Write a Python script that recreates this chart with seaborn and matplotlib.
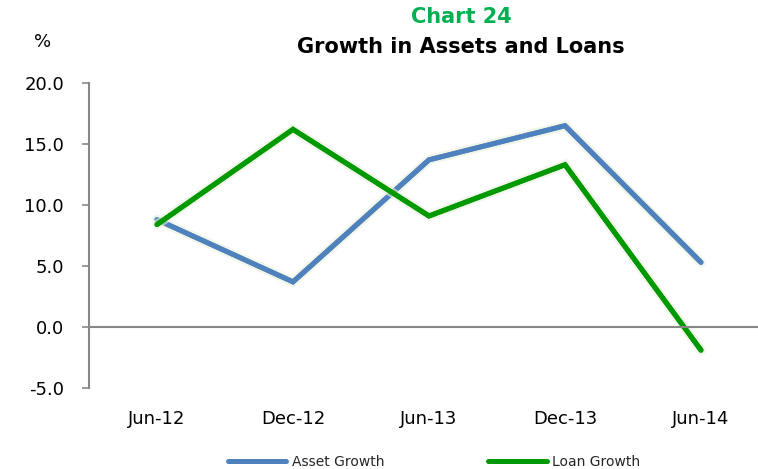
import numpy as np
import pandas as pd
import matplotlib
matplotlib.use('Agg')
import matplotlib.pyplot as plt
import matplotlib.patheffects as pe
import seaborn as sns

periods = ['Jun-12', 'Dec-12', 'Jun-13', 'Dec-13', 'Jun-14']
asset_growth = [8.8, 3.7, 13.7, 16.5, 5.3]
loan_growth = [8.4, 16.2, 9.1, 13.3, -1.9]
series_names = ['Asset Growth', 'Loan Growth']
series_colors = ['#4F81BD', '#009900']

df = pd.DataFrame({'period': periods,
                   'Asset Growth': asset_growth,
                   'Loan Growth': loan_growth})
long_df = df.melt(id_vars='period', var_name='series', value_name='growth')

sns.set_style('white')
plt.rcParams['font.family'] = ['DejaVu Sans']

fig = plt.figure(figsize=(7.58, 4.69), dpi=100)
ax = fig.add_axes([89 / 758, 1 - 388 / 469, 680 / 758, 305 / 469])

sns.lineplot(data=long_df, x='period', y='growth', hue='series',
             hue_order=series_names, palette=series_colors, sort=False,
             linewidth=3.6, ax=ax, legend=True)

glow = [pe.withStroke(linewidth=7, foreground='#e8f0dc', alpha=0.6), pe.Normal()]
for line in ax.lines:
    line.set_path_effects(glow)
    line.set_solid_capstyle('round')
    line.set_solid_joinstyle('miter')

ax.set_xlim(-0.5, len(periods) - 0.5)
ax.set_ylim(-5, 20)
ax.set_yticks(np.arange(-5, 20.1, 5))
ax.set_yticklabels([f'{v:.1f}' for v in np.arange(-5, 20.1, 5)])
ax.set_xlabel('')
ax.set_ylabel('')

gray = '#878787'
for s in ['top', 'right']:
    ax.spines[s].set_visible(False)
ax.spines['left'].set_color(gray)
ax.spines['left'].set_linewidth(1.5)
ax.spines['bottom'].set_position(('data', 0))
ax.spines['bottom'].set_color(gray)
ax.spines['bottom'].set_linewidth(1.5)

# boundary ticks on the zero line, category labels below the plot
ax.set_xticks(np.arange(0.5, len(periods) - 1, 1))
ax.set_xticklabels([])
ax.tick_params(axis='x', direction='out', length=4, width=1.2, color=gray)
ax.tick_params(axis='y', direction='out', length=5, width=1.2, color=gray,
               labelsize=13, pad=13, left=True, labelcolor='black')

sec = ax.secondary_xaxis(location=0)
sec.set_xticks(range(len(periods)))
sec.set_xticklabels(periods)
sec.spines['bottom'].set_visible(False)
sec.tick_params(axis='x', length=0, labelsize=13, pad=16, labelcolor='black')

handles = ax.get_legend().legend_handles
ax.get_legend().remove()
leg = fig.legend(handles=handles, labels=series_names,
                 loc='center', bbox_to_anchor=(434 / 758, 1 - 462 / 469),
                 ncol=2, frameon=False, fontsize=10, handlelength=4.2,
                 columnspacing=7.5, handletextpad=0.4, borderpad=0)
for h, c in zip(leg.legend_handles, series_colors):
    h.set_linewidth(3.6)
    h.set_color(c)

fig.text(461 / 758, 1 - 17 / 469, 'Chart 24', color='#00B050', fontsize=15,
         fontweight='bold', ha='center', va='center')
fig.text(461 / 758, 1 - 47 / 469, 'Growth in Assets and Loans', color='black',
         fontsize=15, fontweight='bold', ha='center', va='center')
fig.text(43 / 758, 1 - 42 / 469, '%', color='black', fontsize=13,
         ha='center', va='center')

fig.savefig('out.png', dpi=100)
